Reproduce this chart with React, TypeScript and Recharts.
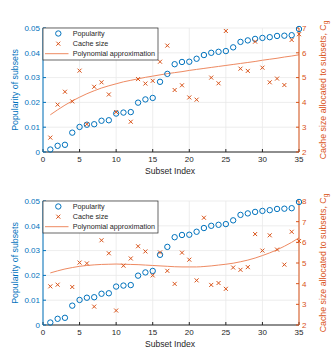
import React from "react"
import {
  CartesianGrid,
  ComposedChart,
  Line,
  Scatter,
  XAxis,
  YAxis,
} from "recharts"

// values
const subsetIndex = [
  1, 2, 3, 4, 5, 6, 7, 8, 9, 10, 11, 12, 13, 14, 15, 16, 17, 18, 19, 20, 21,
  22, 23, 24, 25, 26, 27, 28, 29, 30, 31, 32, 33, 34, 35,
]

const popularity = [
  0.001, 0.0025, 0.0029, 0.0078, 0.0101, 0.011, 0.0112, 0.0126, 0.0128,
  0.0155, 0.0159, 0.0161, 0.0199, 0.0212, 0.0218, 0.0283, 0.0315, 0.0354,
  0.0363, 0.0364, 0.0376, 0.0391, 0.04, 0.0404, 0.0407, 0.0422, 0.0444, 0.045,
  0.0456, 0.046, 0.0463, 0.0468, 0.0469, 0.0471, 0.0496,
]

const cacheTop = [
  2.58, 3.91, 4.43, 4.04, 5.28, 3.12, 4.63, 4.81, 4.32, 3.61, null, 3.22, 4.94,
  4.76, 4.87, 5.64, 6.29, 4.5, 4.69, 4.2, 4.11, null, 5.0, 4.77, 6.88, null,
  5.36, 5.27, 6.45, 5.4, 4.81, 4.96, 4.7, 6.52, 6.75,
]

const polyTop = [
  3.5, 3.7, 3.89, 4.06, 4.21, 4.35, 4.47, 4.58, 4.67, 4.75, 4.83, 4.89, 4.95,
  5.01, 5.06, 5.11, 5.16, 5.2, 5.24, 5.29, 5.33, 5.37, 5.41, 5.45, 5.49, 5.53,
  5.57, 5.61, 5.65, 5.7, 5.74, 5.78, 5.83, 5.87, 5.92,
]

const cacheBottom = [
  3.87, 3.95, null, 3.84, 5.02, 4.98, 2.89, 6.1, 5.47, 2.7, 4.87, 5.22, 5.81,
  5.56, 4.4, 5.51, 4.62, 3.99, 5.5, 5.16, 4.16, 7.19, 3.94, 4.03, 3.75, 4.78,
  4.67, 4.8, 6.4, 5.6, 6.34, 5.65, 4.92, 6.51, 6.06,
]

const polyBottom = [
  4.52, 4.62, 4.71, 4.78, 4.84, 4.88, 4.91, 4.93, 4.94, 4.95, 4.94, 4.93, 4.92,
  4.9, 4.88, 4.86, 4.84, 4.82, 4.81, 4.81, 4.81, 4.83, 4.86, 4.9, 4.94, 4.99,
  5.06, 5.14, 5.24, 5.36, 5.49, 5.64, 5.81, 6.0, 6.22,
]

const xTicks = [0, 5, 10, 15, 20, 25, 30, 35]
const popTicks = [0, 0.01, 0.02, 0.03, 0.04, 0.05]
const cacheTicksTop = [2, 3, 4, 5, 6, 7]
const cacheTicksBottom = [2, 3, 4, 5, 6, 7, 8]

const BLUE = "#0072BD"
const ORANGE = "#D95319"
const POLY = "#EE8A62"
const DARK = "#262626"
const FONT = "'Liberation Sans', Arial, Helvetica, sans-serif"

const Circle = (props: any) => {
  if (props.payload?.pop == null || props.cx == null) return <g />
  return (
    <circle
      cx={props.cx}
      cy={props.cy}
      r={2.7}
      fill="none"
      stroke={BLUE}
      strokeWidth={1}
    />
  )
}

const Cross = (props: any) => {
  if (props.payload?.cache == null || props.cx == null) return <g />
  const { cx, cy } = props
  const s = 2
  return (
    <g stroke={ORANGE} strokeWidth={1}>
      <line x1={cx - s} y1={cy - s} x2={cx + s} y2={cy + s} />
      <line x1={cx - s} y1={cy + s} x2={cx + s} y2={cy - s} />
    </g>
  )
}

const Overlay = () => (
  <svg
    width={332}
    height={182}
    style={{ position: "absolute", left: 0, top: 0, pointerEvents: "none" }}
    fontFamily={FONT}
  >
    {/* legend */}
    <rect x={43} y={28} width={115} height={32} fill="#fff" stroke={DARK} strokeWidth={0.7} />
    <circle cx={58.3} cy={33.5} r={2.7} fill="none" stroke={BLUE} strokeWidth={1} />
    <g stroke={ORANGE} strokeWidth={1}>
      <line x1={56.3} y1={41.7} x2={60.3} y2={45.7} />
      <line x1={56.3} y1={45.7} x2={60.3} y2={41.7} />
    </g>
    <line x1={45} y1={53.7} x2={68.5} y2={53.7} stroke={POLY} strokeWidth={1} />
    <g fontSize={7.2} fill={DARK}>
      <text x={72.7} y={36}>Popularity</text>
      <text x={72.7} y={46.2}>Cache size</text>
      <text x={72.7} y={56.2}>Polynomial approximation</text>
    </g>
    {/* axis titles */}
    <text
      x={15}
      y={90}
      transform="rotate(-90 15 90)"
      textAnchor="middle"
      dominantBaseline="central"
      fontSize={8.8}
      fill={BLUE}
    >
      Popularity of subsets
    </text>
    <text
      x={322.5}
      y={90}
      transform="rotate(-90 322.5 90)"
      textAnchor="middle"
      dominantBaseline="central"
      fontSize={8.8}
      fill={ORANGE}
    >
      Cache size allocated to subsets, C
      <tspan fontSize={6.5} dy={2.5}>g</tspan>
    </text>
    <text x={170} y={174} textAnchor="middle" fontSize={8.6} fill={DARK}>
      Subset Index
    </text>
  </svg>
)

const Panel = ({
  cache,
  poly,
  cacheMax,
  cacheTicks,
  top,
}: {
  cache: (number | null)[]
  poly: number[]
  cacheMax: number
  cacheTicks: number[]
  top: number
}) => {
  const data = subsetIndex.map((idx, i) => ({
    idx,
    pop: popularity[i],
    cache: cache[i],
    poly: poly[i],
  }))
  const tickFont = { fontSize: 8, fontFamily: FONT }
  return (
    <div style={{ position: "absolute", left: 0, top, width: 332, height: 182 }}>
      <ComposedChart
        width={332}
        height={182}
        data={data}
        margin={{ top: 28, right: 0, bottom: 0, left: 0 }}
      >
        <CartesianGrid
          xAxisId="bottom"
          yAxisId="left"
          stroke="#E8E8E8"
          strokeWidth={0.8}
        />
        <XAxis
          xAxisId="bottom"
          dataKey="idx"
          type="number"
          domain={[0, 35]}
          ticks={xTicks}
          height={30}
          stroke={DARK}
          tickSize={-3}
          tickMargin={7}
          tick={{ ...tickFont, fill: DARK }}
        />
        <XAxis
          xAxisId="top"
          orientation="top"
          dataKey="idx"
          type="number"
          domain={[0, 35]}
          ticks={xTicks}
          height={0}
          stroke={DARK}
          tickSize={-3}
          tickFormatter={() => ""}
        />
        <YAxis
          yAxisId="left"
          type="number"
          domain={[0, 0.05]}
          ticks={popTicks}
          width={43}
          stroke={BLUE}
          tickSize={-3}
          tickMargin={6}
          tick={{ ...tickFont, fill: BLUE }}
        />
        <YAxis
          yAxisId="right"
          orientation="right"
          type="number"
          domain={[2, cacheMax]}
          ticks={cacheTicks}
          width={33}
          stroke={ORANGE}
          tickSize={-3}
          tickMargin={6}
          tick={{ ...tickFont, fill: ORANGE }}
        />
        <Line
          xAxisId="bottom"
          yAxisId="right"
          type="monotone"
          dataKey="poly"
          stroke={POLY}
          strokeWidth={1}
          dot={false}
          isAnimationActive={false}
        />
        <Scatter
          xAxisId="bottom"
          yAxisId="left"
          data={data}
          dataKey="pop"
          shape={Circle}
          isAnimationActive={false}
        />
        <Scatter
          xAxisId="bottom"
          yAxisId="right"
          data={data}
          dataKey="cache"
          shape={Cross}
          isAnimationActive={false}
        />
      </ComposedChart>
      <Overlay />
    </div>
  )
}

export default function App() {
  return (
    <div
      style={{
        position: "absolute",
        left: 0,
        top: 0,
        width: 332,
        height: 364,
        background: "#fff",
      }}
    >
      <Panel cache={cacheTop} poly={polyTop} cacheMax={7} cacheTicks={cacheTicksTop} top={0} />
      <Panel
        cache={cacheBottom}
        poly={polyBottom}
        cacheMax={8}
        cacheTicks={cacheTicksBottom}
        top={173}
      />
    </div>
  )
}
